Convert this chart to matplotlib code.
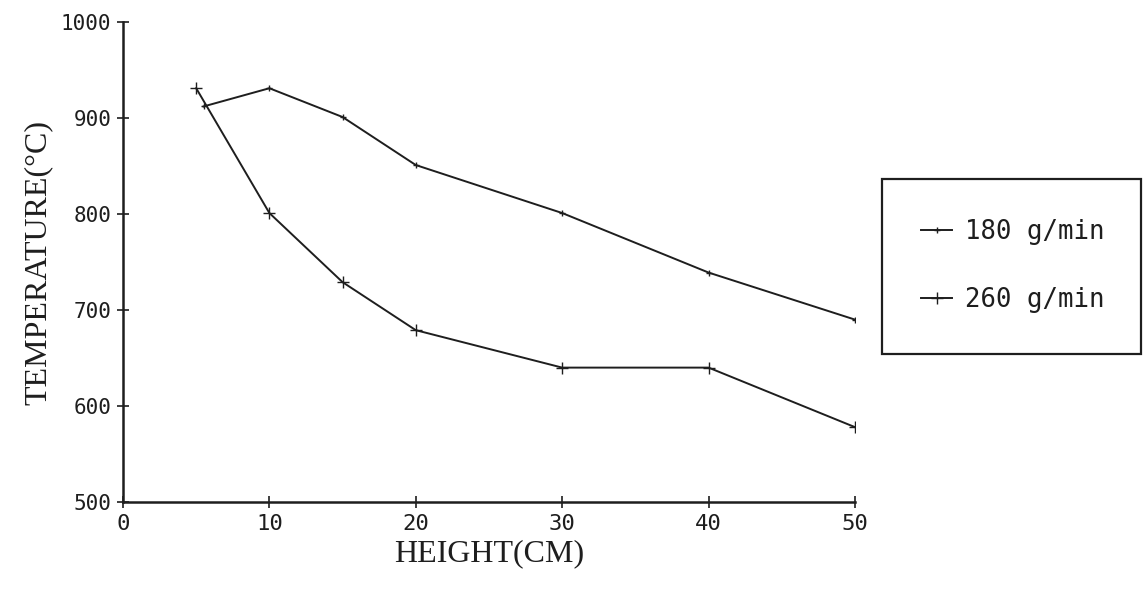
import matplotlib
matplotlib.use("Agg")
import matplotlib.pyplot as plt
from matplotlib.patches import Rectangle

# ----------------------------
# DATA
# ----------------------------
height_180 = [5.5, 10, 15, 20, 30, 40, 50]
temp_180 = [912, 931, 901, 851, 801, 739, 690]

height_260 = [5, 10, 15, 20, 30, 40, 50]
temp_260 = [931, 801, 729, 679, 640, 640, 578]

x_ticks = [0, 10, 20, 30, 40, 50]
y_ticks = [500, 600, 700, 800, 900, 1000]
series_labels = ["180 g/min", "260 g/min"]

mono = "DejaVu Sans Mono"
serif = "Liberation Serif"
ink = "#1e1e1e"

fig = plt.figure(figsize=(11.43, 5.99), dpi=100)
ax = fig.add_axes([0.1076, 0.1619, 0.6404, 0.8014])

ax.plot(height_180, temp_180, color=ink, lw=1.4, marker="+", ms=5, mew=1.0,
        label=series_labels[0])
ax.plot(height_260, temp_260, color=ink, lw=1.4, marker="+", ms=9, mew=1.0,
        label=series_labels[1])

ax.set_xlim(0, 50)
ax.set_ylim(500, 1000)
ax.set_xticks(x_ticks)
ax.set_yticks(y_ticks)

for side in ["top", "right"]:
    ax.spines[side].set_visible(False)
for side in ["left", "bottom"]:
    ax.spines[side].set_linewidth(1.8)
    ax.spines[side].set_color(ink)

ax.tick_params(direction="inout", length=9, width=1.2, colors=ink, pad=4)
for lab in ax.get_xticklabels():
    lab.set_fontfamily(mono)
    lab.set_fontsize(16)
for lab in ax.get_yticklabels():
    lab.set_fontfamily(mono)
    lab.set_fontsize(15)

ax.set_xlabel("HEIGHT(CM)", fontfamily=serif, fontsize=23, color=ink, labelpad=4)
ax.set_ylabel("TEMPERATURE(°C)", fontfamily=serif, fontsize=23, color=ink,
              labelpad=6)

# legend box drawn on the figure
fig.patches.append(Rectangle((0.7717, 0.409), 0.2268, 0.2922,
                             transform=fig.transFigure, fill=False,
                             edgecolor=ink, lw=1.6))
leg = fig.legend(loc="center", bbox_to_anchor=(0.886, 0.556), frameon=False,
                 handlelength=1.2, handletextpad=0.5, labelspacing=1.6,
                 prop={"family": mono, "size": 18.5})
for t in leg.get_texts():
    t.set_color(ink)

fig.savefig("out.png", dpi=100, facecolor="white")
